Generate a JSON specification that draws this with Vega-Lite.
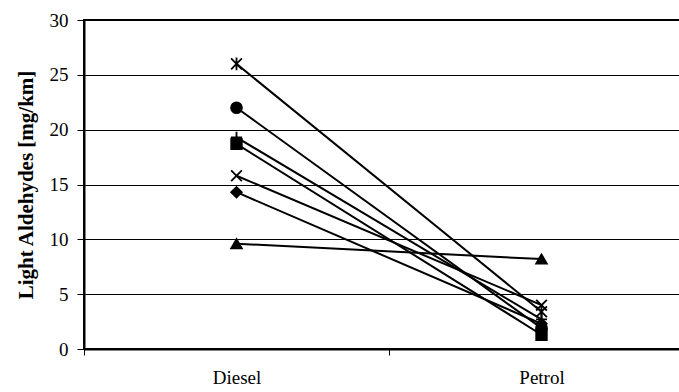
{
  "$schema": "https://vega.github.io/schema/vega-lite/v6.json",
  "autosize": "none",
  "padding": {"left": 84, "top": 20, "right": 0, "bottom": 43},
  "width": 610,
  "height": 329,
  "background": "white",
  "config": {
    "view": {"stroke": "black", "strokeWidth": 2},
    "font": "Liberation Serif"
  },
  "data": {
    "values": [
      {"series": "S1", "fuel": "Diesel", "value": 14.3},
      {"series": "S1", "fuel": "Petrol", "value": 2.3},
      {"series": "S2", "fuel": "Diesel", "value": 18.7},
      {"series": "S2", "fuel": "Petrol", "value": 1.3},
      {"series": "S3", "fuel": "Diesel", "value": 9.6},
      {"series": "S3", "fuel": "Petrol", "value": 8.2},
      {"series": "S4", "fuel": "Diesel", "value": 15.8},
      {"series": "S4", "fuel": "Petrol", "value": 4.0},
      {"series": "S5", "fuel": "Diesel", "value": 26.0},
      {"series": "S5", "fuel": "Petrol", "value": 3.4},
      {"series": "S6", "fuel": "Diesel", "value": 22.0},
      {"series": "S6", "fuel": "Petrol", "value": 1.9},
      {"series": "S7", "fuel": "Diesel", "value": 19.3},
      {"series": "S7", "fuel": "Petrol", "value": 2.7}
    ]
  },
  "encoding": {
    "x": {
      "field": "fuel",
      "type": "nominal",
      "bandPosition": 0.5,
      "scale": {"type": "band", "paddingInner": 0, "paddingOuter": 0},
      "axis": {
        "title": null,
        "labelAngle": 0,
        "labelFont": "Liberation Serif",
        "labelFontSize": 19,
        "labelColor": "black",
        "labelPadding": 13,
        "tickBand": "extent",
        "tickColor": "black",
        "tickSize": 6,
        "domainColor": "black",
        "domainWidth": 2,
        "grid": false
      }
    },
    "y": {
      "field": "value",
      "type": "quantitative",
      "scale": {"domain": [0, 30], "nice": false, "zero": true},
      "axis": {
        "title": "Light Aldehydes [mg/km]",
        "titleFont": "Liberation Serif",
        "titleFontSize": 21,
        "titleFontWeight": "bold",
        "titleColor": "black",
        "titlePadding": 13,
        "values": [0, 5, 10, 15, 20, 25, 30],
        "labelFont": "Liberation Serif",
        "labelFontSize": 19,
        "labelColor": "black",
        "labelPadding": 9,
        "tickColor": "black",
        "tickSize": 7,
        "domainColor": "black",
        "domainWidth": 2,
        "grid": true,
        "gridColor": "black",
        "gridWidth": 1,
        "gridOpacity": 1
      }
    }
  },
  "layer": [
    {
      "mark": {"type": "line", "color": "black", "strokeWidth": 2},
      "encoding": {"detail": {"field": "series"}}
    },
    {
      "mark": {"type": "point", "filled": true, "color": "black", "stroke": "black", "strokeWidth": 1.8, "opacity": 1},
      "encoding": {
        "shape": {
          "field": "series",
          "type": "nominal",
          "legend": null,
          "scale": {
            "domain": ["S1", "S2", "S3", "S4", "S5", "S6", "S7"],
            "range": [
              "diamond",
              "square",
              "triangle-up",
              "M-1,-1L1,1M-1,1L1,-1",
              "M-1,-1L1,1M-1,1L1,-1M0,-1.2L0,1.2",
              "circle",
              "M-1,0L1,0M0,-1L0,1"
            ]
          }
        },
        "size": {
          "field": "series",
          "type": "nominal",
          "legend": null,
          "scale": {
            "domain": ["S1", "S2", "S3", "S4", "S5", "S6", "S7"],
            "range": [110, 120, 150, 130, 140, 150, 130]
          }
        }
      }
    }
  ]
}
